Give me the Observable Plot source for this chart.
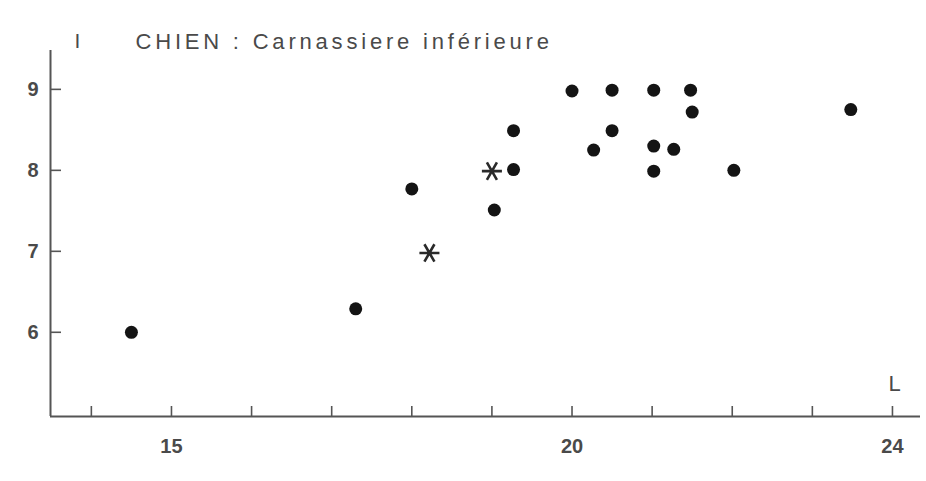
<!DOCTYPE html>
<html>
<head>
<meta charset="utf-8">
<script src="https://cdn.jsdelivr.net/npm/d3@7"></script>
<script src="https://cdn.jsdelivr.net/npm/@observablehq/plot@0.6"></script>
<style>
  html, body { margin: 0; padding: 0; background: #ffffff; }
  #chart svg { display: block; }
</style>
</head>
<body>
<div id="chart"></div>
<script>
// Data: L (length) vs I (index) — dots and asterisks
const dotL = [14.5, 17.3, 18.0, 19.03, 19.27, 19.27, 20.0, 20.5, 21.02, 21.48, 21.5, 20.5, 20.27, 21.02, 21.27, 21.02, 22.02, 23.48];
const dotI = [6.0, 6.29, 7.77, 7.51, 8.49, 8.01, 8.98, 8.99, 8.99, 8.99, 8.72, 8.49, 8.25, 8.3, 8.26, 7.99, 8.0, 8.75];
const starL = [18.22, 19.0];
const starI = [6.98, 7.99];

const xMinorTicks = [14, 15, 16, 17, 18, 19, 20, 21, 22, 23, 24];
const xLabelTicks = [15, 20, 24];
const yTicks = [6, 7, 8, 9];
const xDomain = [13.49, 24.35];
const yDomain = [4.96, 9.48];

const titleText = "CHIEN : Carnassiere inférieure";
const yAxisLabel = "I";
const xAxisLabel = "L";

const dots = dotL.map((l, i) => ({L: l, I: dotI[i]}));
const stars = starL.map((l, i) => ({L: l, I: starI[i]}));

const axisColor = "#555";
const textColor = "#4a4a4a";

const plot = Plot.plot({
  width: 926,
  height: 481,
  marginLeft: 50,
  marginRight: 6,
  marginTop: 50,
  marginBottom: 65,
  style: {fontFamily: "'Liberation Sans', Arial, sans-serif", background: "#fff", overflow: "visible"},
  x: {domain: xDomain},
  y: {domain: yDomain},
  marks: [
    // axis lines
    Plot.ruleX([xDomain[0]], {stroke: axisColor, strokeWidth: 2}),
    Plot.ruleY([yDomain[0]], {stroke: axisColor, strokeWidth: 2}),
    // inward ticks
    Plot.axisX({ticks: xMinorTicks, tickSize: -10, tickFormat: () => "", stroke: axisColor, strokeWidth: 1.6, label: null}),
    Plot.axisY({ticks: yTicks, tickSize: -11, tickFormat: () => "", stroke: axisColor, strokeWidth: 1.6, label: null}),
    // tick labels
    Plot.axisX({ticks: xLabelTicks, tickSize: 0, tickPadding: 22, tickFormat: "d", fontSize: 20, fontWeight: "bold", fill: textColor, label: null}),
    Plot.axisY({ticks: yTicks, tickSize: 0, tickPadding: 12, tickFormat: "d", fontSize: 20, fontWeight: "bold", fill: textColor, label: null}),
    // axis names and title
    Plot.text([yAxisLabel], {frameAnchor: "top-left", text: d => d, dx: 27, dy: -9, lineAnchor: "middle", textAnchor: "middle", fontSize: 21, fill: textColor}),
    Plot.text([titleText], {frameAnchor: "top-left", text: d => d, dx: 85, dy: -9, lineAnchor: "middle", textAnchor: "start", fontSize: 22, fill: textColor}),
    Plot.text([xAxisLabel], {frameAnchor: "bottom-right", text: d => d, dx: -26, dy: -33, lineAnchor: "middle", textAnchor: "middle", fontSize: 22, fill: textColor}),
    // data
    Plot.dot(dots, {x: "L", y: "I", r: 6.5, fill: "#141414", stroke: "none"}),
    Plot.dot(stars, {x: "L", y: "I", r: 9.5, symbol: "asterisk", stroke: "#2a2a2a", strokeWidth: 2.6, rotate: 90})
  ]
});
// widen the title's letter spacing, as in the typeset original
d3.select(plot).selectAll("text")
  .filter(function() { return this.textContent === titleText; })
  .style("letter-spacing", "3.8px");
document.getElementById("chart").appendChild(plot);
</script>
</body>
</html>
